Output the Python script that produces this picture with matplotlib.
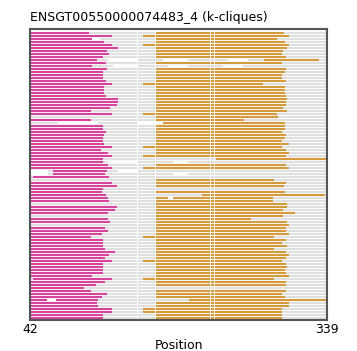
import numpy as np
import matplotlib
matplotlib.use("Agg")
import matplotlib.pyplot as plt

nan = np.nan
seq_start, seq_end = 42, 339

# magenta block (start, end) per row, top to bottom
mag_start = [42] * 96
for i in (46, 47):
    mag_start[i] = 65
for i in (48, 82):
    mag_start[i] = 45
mag_end = [101, 124, 104, 116, 124, 130, 119, 121, 115, 109,
           118, 104, 119, 115, 115, 115, 118, 124, 116, 116,
           116, 118, 130, 130, 129, 122, 103, 124, nan, 103,
           nan, 115, 115, 118, 116, 115, 115, 116, 124, 113,
           120, 124, 115, 115, 120, 124, 119, 117, 121, nan,
           124, 129, 115, 114, 118, 120, 121, nan, 129, 127,
           120, nan, 120, 122, nan, 117, 120, 114, 103, 115,
           115, 115, 117, 127, 121, 117, 124, 115, 115, 115,
           115, 104, 124, 117, 108, 96, 103, 119, 114, 110,
           109, 110, 124, 124, 115, 115]

# orange block (start, end) per row
org_start = [168, 155, 168, 168, 155, 168, 168, 168, 168, 276,
             168, nan, 168, 168, 168, 168, 168, 155, 168, 168,
             168, 168, 168, 168, 168, 168, 168, 155, 168, 168,
             168, 168, 168, 168, 168, 168, 168, 168, 155, 168,
             168, 155, 228, nan, 168, 155, nan, nan, nan, 168,
             168, 168, nan, 168, 214, 168, 168, 168, 168, 168,
             168, 168, 168, 168, 168, 168, 168, 168, 155, 168,
             168, 168, 168, 168, 168, 168, 155, 168, 168, 168,
             168, 168, 155, 168, 168, 155, 168, 168, 168, 201,
             168, 168, 155, 155, 168, 168]
org_end = [296, 301, 289, 297, 301, 299, 295, 294, 298, 331,
           294, nan, 298, 297, 294, 294, 298, 275, 297, 297,
           297, 298, 299, 298, 298, 295, 299, 289, 290, 256,
           297, 297, 297, 294, 298, 297, 294, 301, 294, 298,
           301, 298, 339, nan, 298, 301, nan, nan, nan, 286,
           298, 296, nan, 297, 337, 285, 285, 299, 299, 295,
           307, 295, 263, 299, 301, 298, 298, 301, 286, 298,
           294, 299, 286, 298, 301, 298, 294, 298, 299, 297,
           298, 301, 286, 298, 298, nan, 298, 294, 297, 339,
           301, 301, 294, 294, 294, 294]

# missing stretches of sequence (row, start, end)
gaps = [(2, 104, 112), (9, 120, 150), (9, 175, 200), (9, 240, 260),
        (11, 125, 150), (11, 180, 200), (11, 235, 255),
        (30, 70, 110), (30, 150, 175), (43, 120, 150), (43, 185, 200),
        (46, 42, 60), (46, 130, 150), (47, 42, 60), (47, 185, 200),
        (89, 59, 68), (55, 180, 185)]
gap_positions = [149, 167.5, 222, 226]

mag_col = "#d6449e"
org_col = "#d59a3c"
grey_col = "#e0e0e0"
lw = 1.5

fig = plt.figure(figsize=(3.57, 3.51), dpi=100)
ax = fig.add_axes([0.084, 0.088, 0.832, 0.829])

rows = np.arange(len(mag_end))
ax.hlines(rows, seq_start, seq_end, color=grey_col, lw=lw)
ax.hlines(rows, mag_start, mag_end, color=mag_col, lw=lw)
ax.hlines(rows, org_start, org_end, color=org_col, lw=lw)
for r, a, b in gaps:
    ax.hlines(r, a, b, color="white", lw=lw)
for p in gap_positions:
    ax.axvline(p, color="white", lw=0.6)

ax.set_xlim(seq_start, seq_end)
ax.set_ylim(95.8, -1.2)
ax.set_xticks([seq_start, seq_end])
ax.set_yticks([])
ax.tick_params(axis="x", length=0, pad=2, labelsize=9)
ax.set_xlabel("Position", fontsize=9, labelpad=2)
ax.set_title("ENSGT00550000074483_4 (k-cliques)", fontsize=9, loc="left", pad=6)
for s in ax.spines.values():
    s.set_color("#555555")
    s.set_linewidth(1.5)

fig.savefig("out.png", dpi=100)
